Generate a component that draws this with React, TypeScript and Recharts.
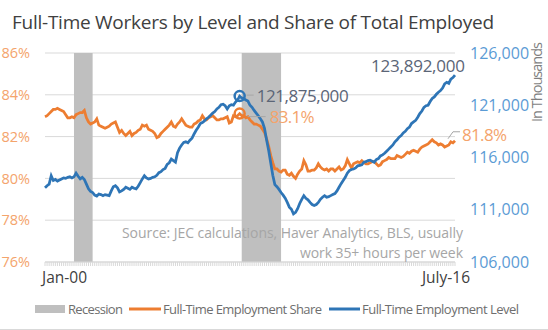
import React from 'react';
import { LineChart, Line, XAxis, YAxis, CartesianGrid, ReferenceArea } from 'recharts';

const startYear = 2000;

// Full-time employment share of total employed (%), monthly Jan 2000 - Jul 2016
const shareValues = [
  82.95, 83.0, 83.1, 83.2, 83.3, 83.3, 83.35, 83.3, 83.25, 83.2, 83.05, 82.9,
  82.9, 82.95, 82.9, 83.05, 83.1, 83.15, 83.15, 83.25, 82.9, 82.7, 82.6, 82.65,
  82.7, 82.85, 82.55, 82.5, 82.45, 82.4, 82.45, 82.5, 82.6, 82.65, 82.7, 82.45,
  82.2, 82.3, 82.15, 82.05, 82.15, 82.25, 82.05, 82.15, 82.2, 82.3, 82.35, 82.55,
  82.5, 82.55, 82.35, 82.3, 82.25, 82.15, 81.95, 82.0, 82.15, 82.25, 82.35, 82.45,
  82.55, 82.7, 82.5, 82.45, 82.6, 82.7, 82.85, 82.7, 82.55, 82.5, 82.45, 82.45,
  82.6, 82.65, 82.75, 82.8, 83.0, 82.85, 82.8, 82.9, 82.95, 83.0, 82.9, 82.8,
  82.8, 82.85, 82.85, 82.9, 82.95, 82.65, 82.7, 83.0, 82.95, 83.0, 83.1, 83.0,
  83.0, 82.9, 82.95, 82.8, 82.7, 82.6, 82.6, 82.55, 82.5, 82.35, 82.2, 81.9,
  81.55, 81.1, 80.75, 80.45, 80.45, 80.35, 80.3, 80.4, 80.4, 80.2, 80.15, 80.25,
  80.1, 80.0, 80.2, 80.35, 80.45, 80.85, 80.65, 80.35, 80.35, 80.4, 80.4, 80.5,
  80.7, 80.55, 80.45, 80.4, 80.45, 80.35, 80.45, 80.45, 80.35, 80.45, 80.55, 80.4,
  80.45, 80.6, 80.9, 80.7, 80.5, 80.7, 80.75, 80.8, 80.75, 80.85, 80.75, 80.7,
  80.7, 80.75, 80.8, 80.8, 80.7, 80.6, 80.65, 80.8, 80.85, 80.9, 81.0, 80.95,
  80.95, 80.95, 81.1, 81.05, 81.0, 81.05, 81.15, 81.25, 81.2, 81.3, 81.35, 81.3,
  81.25, 81.4, 81.5, 81.55, 81.6, 81.65, 81.75, 81.85, 81.75, 81.7, 81.6, 81.65,
  81.6, 81.5, 81.55, 81.6, 81.75, 81.7, 81.8,
];

// Full-time employment level (thousands), monthly Jan 2000 - Jul 2016
const levelValues = [
  113100, 113300, 113450, 114250, 113800, 113900, 113750, 113850, 113950, 114050, 114000, 114100,
  114150, 114050, 114150, 114500, 114200, 113950, 114100, 113900, 113450, 113000, 112750, 112650,
  112400, 112300, 112500, 112450, 112350, 112450, 112400, 112350, 112800, 113200, 113300, 113100,
  112700, 112800, 112950, 113150, 113050, 112950, 113150, 113050, 113000, 113250, 113600, 113950,
  114250, 114050, 113950, 114000, 114100, 114150, 114300, 114550, 114650, 114850, 114950, 115350,
  115500, 115850, 115700, 115550, 116450, 116900, 117200, 117450, 117500, 117400, 117650, 117850,
  118250, 118600, 118900, 119250, 119350, 119500, 119700, 119850, 120050, 120250, 120400, 120650,
  120800, 121050, 121100, 120950, 120650, 120950, 121050, 121000, 121300, 121500, 121875, 121700,
  121650, 121500, 121400, 121000, 120800, 120500, 120250, 120000, 119700, 119400, 118800, 117700,
  116700, 115500, 114300, 113400, 113200, 112950, 112650, 112400, 112100, 111700, 111250, 111050,
  110600, 110750, 111100, 111600, 112000, 112350, 112100, 111950, 111700, 111500, 111400, 111500,
  111700, 112000, 112200, 112350, 112200, 112250, 112350, 112450, 112550, 112800, 113150, 113500,
  113800, 114100, 114500, 114750, 114850, 114900, 115000, 115200, 115250, 115300, 115550, 115600,
  115700, 115750, 115650, 115550, 115800, 115900, 116150, 116250, 116400, 116600, 116800, 117000,
  117200, 117500, 117700, 117950, 118100, 118350, 118500, 118750, 118900, 119250, 119400, 119550,
  119850, 120200, 120450, 120800, 120950, 121000, 121350, 121650, 121800, 122050, 122250, 122400,
  122650, 123050, 123200, 123100, 123500, 123650, 123892,
];

const recessions = [
  { start: '2001-03', end: '2001-11' },
  { start: '2007-12', end: '2009-06' },
];
const xTickLabels = ['Jan-00', 'July-16'];
const leftTicks = [76, 78, 80, 82, 84, 86];
const rightTicks = [106000, 111000, 116000, 121000, 126000];
const peakMonth = '2007-11';

const title = 'Full-Time Workers by Level and Share of Total Employed';
const sourceLines = ['Source: JEC calculations, Haver Analytics, BLS, usually', 'work 35+ hours per week'];
const legendLabels = ['Recession', 'Full-Time Employment Share', 'Full-Time Employment Level'];
const rightAxisTitle = 'In Thousands';

const ORANGE = '#ED7D31';
const LIGHT_ORANGE = '#F4A46C';
const BLUE = '#2E75B6';
const LIGHT_BLUE = '#5B9BD5';
const ANNOT = '#5B6577';
const FONT = "'Open Sans', sans-serif";

const monthIndex = (ym: string) => {
  const [y, m] = ym.split('-').map(Number);
  return (y - startYear) * 12 + (m - 1);
};

const data = shareValues.map((s, i) => ({ i, share: s, level: levelValues[i] }));
const lastIdx = data.length - 1;
const peakIdx = monthIndex(peakMonth);

const XTick = (props: any) => {
  const { x, y, payload } = props;
  if (payload.value === 0) {
    return (
      <text x={x - 3} y={y + 15} textAnchor="start" fontSize={15.5} fill="#404040" fontFamily={FONT}>
        {xTickLabels[0]}
      </text>
    );
  }
  if (payload.value === lastIdx) {
    return (
      <text x={x + 15} y={y + 15} textAnchor="end" fontSize={15.5} fill="#404040" fontFamily={FONT}>
        {xTickLabels[1]}
      </text>
    );
  }
  return <g />;
};

const ShareDot = (props: any) => {
  const { cx, cy, index } = props;
  if (index === peakIdx) {
    return (
      <g key={`sd${index}`}>
        <circle cx={cx} cy={cy} r={5} fill="none" stroke={ORANGE} strokeWidth={2.5} />
        <line x1={cx + 8} y1={cy + 3} x2={cx + 26} y2={cy + 3} stroke="#A6A6A6" strokeWidth={1} />
        <text x={cx + 30} y={cy + 3} dominantBaseline="central" fontSize={17} fill={LIGHT_ORANGE} fontFamily={FONT} textLength={45}>
          {shareValues[index].toFixed(1) + '%'}
        </text>
      </g>
    );
  }
  if (index === lastIdx) {
    return (
      <g key={`sd${index}`}>
        <polyline points={`${cx - 7},${cy - 2} ${cx - 2},${cy - 9} ${cx + 5},${cy - 9}`} fill="none" stroke="#A6A6A6" strokeWidth={1} />
        <text x={cx + 7} y={cy - 6} dominantBaseline="central" fontSize={17} fill={LIGHT_ORANGE} fontFamily={FONT} textLength={45}>
          {shareValues[index].toFixed(1) + '%'}
        </text>
      </g>
    );
  }
  return <g key={`sd${index}`} />;
};

const LevelDot = (props: any) => {
  const { cx, cy, index } = props;
  if (index === peakIdx) {
    return (
      <g key={`ld${index}`}>
        <circle cx={cx} cy={cy} r={5} fill="none" stroke={BLUE} strokeWidth={2.5} />
        <line x1={cx + 7} y1={cy - 1} x2={cx + 14} y2={cy - 1} stroke="#A6A6A6" strokeWidth={1} />
        <text x={cx + 17} y={cy - 1} dominantBaseline="central" fontSize={17} fill={ANNOT} fontFamily={FONT} textLength={92}>
          {(levelValues[index] * 1000).toLocaleString('en-US')}
        </text>
      </g>
    );
  }
  if (index === lastIdx) {
    return (
      <g key={`ld${index}`}>
        <text x={cx + 10} y={cy - 10} dominantBaseline="central" textAnchor="end" fontSize={17} fill={ANNOT} fontFamily={FONT} textLength={94}>
          {(levelValues[index] * 1000).toLocaleString('en-US')}
        </text>
      </g>
    );
  }
  return <g key={`ld${index}`} />;
};

export default function App() {
  return (
    <div style={{ position: 'absolute', left: 0, top: 0, width: 548, height: 330, background: '#fff', fontFamily: FONT }}>
      <LineChart width={548} height={330} data={data} margin={{ top: 53, right: 13, bottom: 43, left: 0 }}>
        <CartesianGrid yAxisId="left" vertical={false} stroke="#D9D9D9" />
        {recessions.map((r, k) => (
          <ReferenceArea
            key={k}
            yAxisId="left"
            x1={monthIndex(r.start)}
            x2={monthIndex(r.end) + 1}
            y1={76}
            y2={86}
            fill="#BFBFBF"
            fillOpacity={1}
            stroke="none"
          />
        ))}
        <XAxis
          dataKey="i"
          type="number"
          domain={[0, lastIdx]}
          ticks={data.map((d) => d.i)}
          interval={0}
          height={25}
          tickSize={4}
          tickLine={{ stroke: '#D9D9D9' }}
          axisLine={{ stroke: '#D9D9D9' }}
          tick={XTick}
        />
        <YAxis
          yAxisId="left"
          orientation="left"
          domain={[76, 86]}
          ticks={leftTicks}
          width={45}
          axisLine={false}
          tickLine={false}
          tickSize={0}
          tickMargin={15}
          tickFormatter={(v: number) => `${v}%`}
          tick={{ fill: LIGHT_ORANGE, fontSize: 14.5, fontFamily: FONT }}
        />
        <YAxis
          yAxisId="right"
          orientation="right"
          domain={[106000, 126000]}
          ticks={rightTicks}
          width={80}
          axisLine={false}
          tickLine={false}
          tickSize={0}
          tickMargin={15}
          tickFormatter={(v: number) => v.toLocaleString('en-US')}
          tick={{ fill: LIGHT_BLUE, fontSize: 16, fontFamily: FONT }}
        />
        <Line
          yAxisId="left"
          dataKey="share"
          stroke={ORANGE}
          strokeWidth={2.75}
          dot={ShareDot}
          activeDot={false}
          isAnimationActive={false}
        />
        <Line
          yAxisId="right"
          dataKey="level"
          stroke={BLUE}
          strokeWidth={2.75}
          dot={LevelDot}
          activeDot={false}
          isAnimationActive={false}
        />
      </LineChart>
      <svg width={548} height={330} style={{ position: 'absolute', left: 0, top: 0, pointerEvents: 'none' }}>
        <text x={12} y={29} fontSize={19} fill="#404040" fontFamily={FONT} textLength={482}>
          {title}
        </text>
        <text x={463} y={238} textAnchor="end" fontSize={14} fill="#A6A6A6" fontFamily={FONT} textLength={341}>
          {sourceLines[0]}
        </text>
        <text x={463} y={258} textAnchor="end" fontSize={14} fill="#A6A6A6" fontFamily={FONT} textLength={163}>
          {sourceLines[1]}
        </text>
        <text
          x={0}
          y={0}
          transform="translate(542, 42) rotate(-90)"
          textAnchor="end"
          fontSize={14.5}
          fill="#7F7F7F"
          fontFamily={FONT}
          textLength={80}
        >
          {rightAxisTitle}
        </text>
        <rect x={35} y={305} width={30} height={8} fill="#BFBFBF" />
        <text x={68} y={314} fontSize={13} fill="#6E6E6E" fontFamily={FONT} textLength={55}>
          {legendLabels[0]}
        </text>
        <line x1={129} y1={309} x2={161} y2={309} stroke={ORANGE} strokeWidth={3} />
        <text x={163} y={314} fontSize={13} fill="#6E6E6E" fontFamily={FONT} textLength={159}>
          {legendLabels[1]}
        </text>
        <line x1={329} y1={309} x2={360} y2={309} stroke={BLUE} strokeWidth={3} />
        <text x={362} y={314} fontSize={13} fill="#6E6E6E" fontFamily={FONT} textLength={157}>
          {legendLabels[2]}
        </text>
        <line x1={0} y1={329.5} x2={548} y2={329.5} stroke="#D9D9D9" strokeWidth={1} />
      </svg>
    </div>
  );
}
